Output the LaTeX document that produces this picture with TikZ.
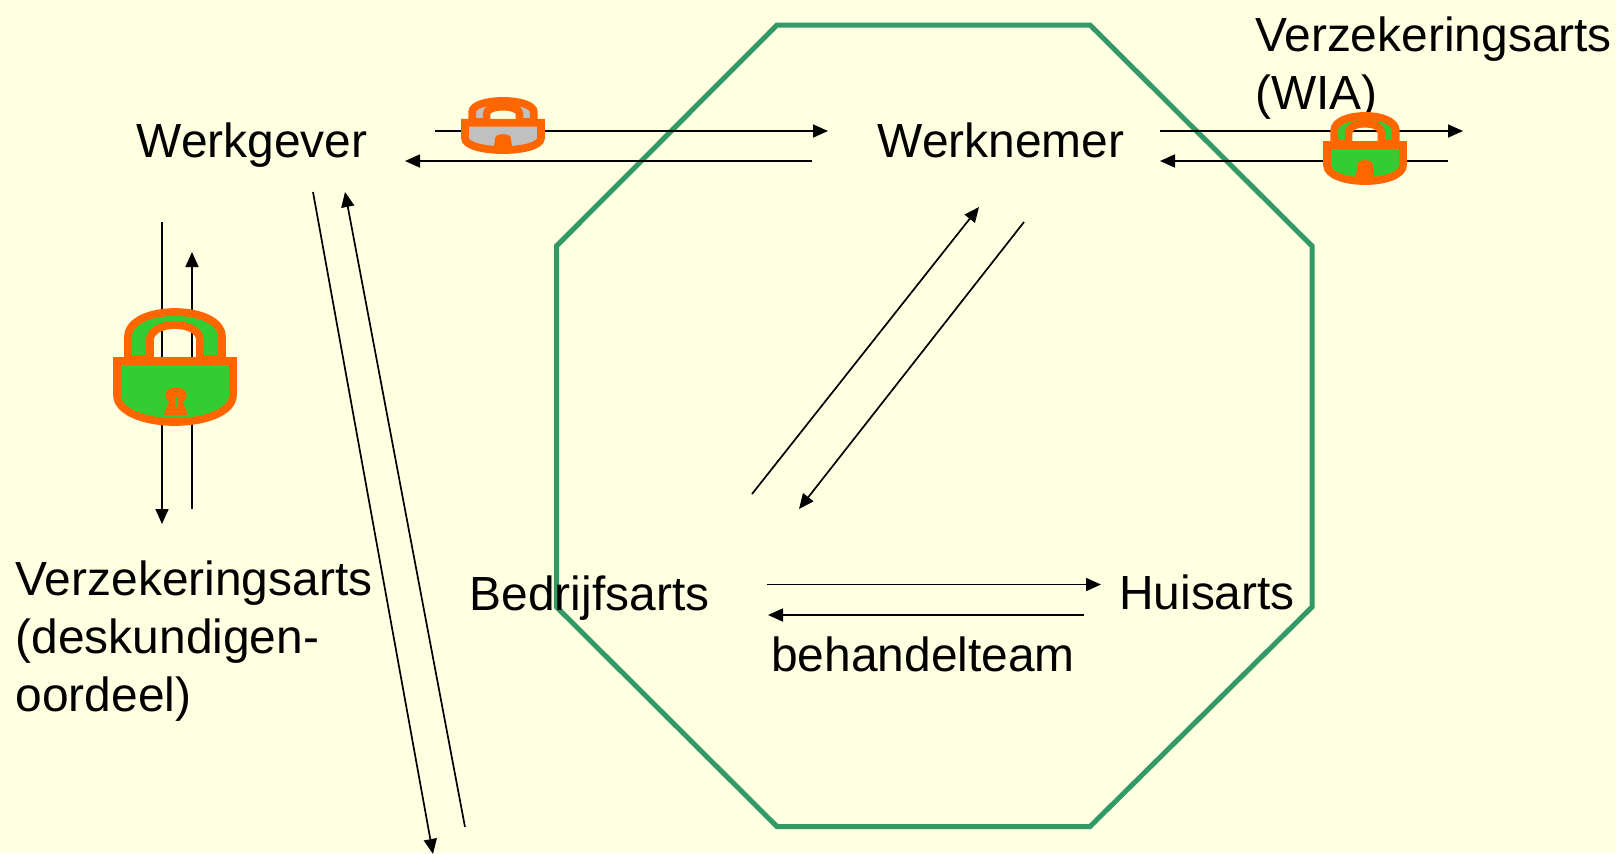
\documentclass[tikz,border=0pt]{standalone}
\usepackage{fontspec}
\setmainfont{Liberation Sans}
\usetikzlibrary{arrows.meta}
\definecolor{bg}{HTML}{FFFFE1}
\definecolor{rand}{HTML}{339966}
\definecolor{slotrand}{HTML}{FF6600}
\definecolor{slotgroen}{HTML}{33CC33}
\definecolor{slotgrijs}{HTML}{C0C0C0}
\tikzset{
  lijn/.style={line width=0.85pt, -{Triangle[length=7.5pt,width=6.5pt]}},
  naam/.style={inner sep=0pt, align=left, font=\fontsize{23.95}{28.9}\selectfont},
  slotlijn/.style={draw=slotrand, line width=3.85pt, line join=miter}
}
% slot: position, scale, fill, keyhole
\newcommand{\slot}[4]{
\begin{scope}[shift={#1},#2]
\draw[slotlijn, fill=#3] (-47,-8)--(-47,-30) .. controls (-47,-46) and (-25,-55) .. (0,-55)
.. controls (25,-55) and (47,-46) .. (47,-30)--(47,-8)--(25,-8)--(25,-27)
.. controls (25,-36) and (14,-42) .. (0,-42) .. controls (-14,-42) and (-25,-36) .. (-25,-27)
--(-25,-8)--cycle;
\draw[slotlijn, fill=#3] (-58,-6)--(58,-6)--(58,28) .. controls (58,45) and (30,55) .. (0,55)
.. controls (-30,55) and (-58,45) .. (-58,28)--cycle;
\fill[slotrand] #4;
\end{scope}}
\newcommand{\sleutelgroot}{(-9.7,28) .. controls (-9.7,18) and (11.7,18) .. (11.7,28) .. controls (11.7,32) and (9,34) .. (8,35)--(13,48)--(-11.3,48)--(-6,35) .. controls (-7,34) and (-9.7,32) .. (-9.7,28)--cycle}
\newcommand{\sleutelklein}{(-15,57)--(-12,30) .. controls (-14,16) and (14,16) .. (12,30)--(15,57)--cycle}
\begin{document}
\begin{tikzpicture}[x=0.5pt,y=-0.5pt]
\useasboundingbox (0,0) rectangle (1616,853);
\fill[bg] (0,0) rectangle (1616,853);
\draw[rand, line width=2.5pt] (777,25)--(1090,25)--(1312,246)--(1312,607)--(1090,826.5)--(777,826.5)--(556.5,607)--(556.5,246)--cycle;
% names
\node[naam] (werkgever) at (252,145) {Werkgever};
\node[naam] (werknemer) at (1001,140) {Werknemer};
\node[naam] (bedrijfsarts) at (589.5,598) {Bedrijfsarts};
\node[naam] (huisarts) at (1207,592.6) {Huisarts};
\node[naam] (behandelteam) at (923,654) {behandelteam};
\node[naam] (vawia) at (1433.5,68) {Verzekeringsarts\\(WIA)};
\node[naam] (vadesk) at (194,641) {Verzekeringsarts\\(deskundigen-\\oordeel)};
\coordinate (onderheen) at (433,854);
\coordinate (ondervan) at (465,827);
% arrows
\draw[lijn] ([shift={(183,-14)}]werkgever.center)--([shift={(-173,-9)}]werknemer.center);
\draw[lijn] ([shift={(-189,21)}]werknemer.center)--([shift={(153,16)}]werkgever.center);
\draw[lijn] ([shift={(159,-9)}]werknemer.center)--([shift={(29.5,63)}]vawia.center);
\draw[lijn] ([shift={(14.5,93)}]vawia.center)--([shift={(159,21)}]werknemer.center);
\draw[lijn] ([shift={(-90,77)}]werkgever.center)--([shift={(-32,-117)}]vadesk.center);
\draw[lijn] ([shift={(-2,-132)}]vadesk.center)--([shift={(-60,107)}]werkgever.center);
\draw[lijn] ([shift={(61,47)}]werkgever.center)--(onderheen);
\draw[lijn] (ondervan)--([shift={(93,47)}]werkgever.center);
\draw[lijn] ([shift={(162.5,-104)}]bedrijfsarts.center)--([shift={(-22,67)}]werknemer.center);
\draw[lijn] ([shift={(23,82)}]werknemer.center)--([shift={(209.5,-89)}]bedrijfsarts.center);
\draw[lijn] ([shift={(177.5,-13.5)}]bedrijfsarts.center)--([shift={(-106,-8.1)}]huisarts.center);
\draw[lijn] ([shift={(-123,22.4)}]huisarts.center)--([shift={(178.5,17)}]bedrijfsarts.center);
% locks
\slot{(175,367)}{}{slotgroen}{\sleutelgroot};
\fill[slotgroen] (176,397)--(178,397)--(178,407)--(175.5,407)--cycle;
\slot{(503,125.5)}{xscale=0.656,yscale=0.447}{slotgrijs}{\sleutelklein};
\slot{(1365,148.5)}{xscale=0.656,yscale=0.592}{slotgroen}{\sleutelklein};
\end{tikzpicture}
\end{document}
